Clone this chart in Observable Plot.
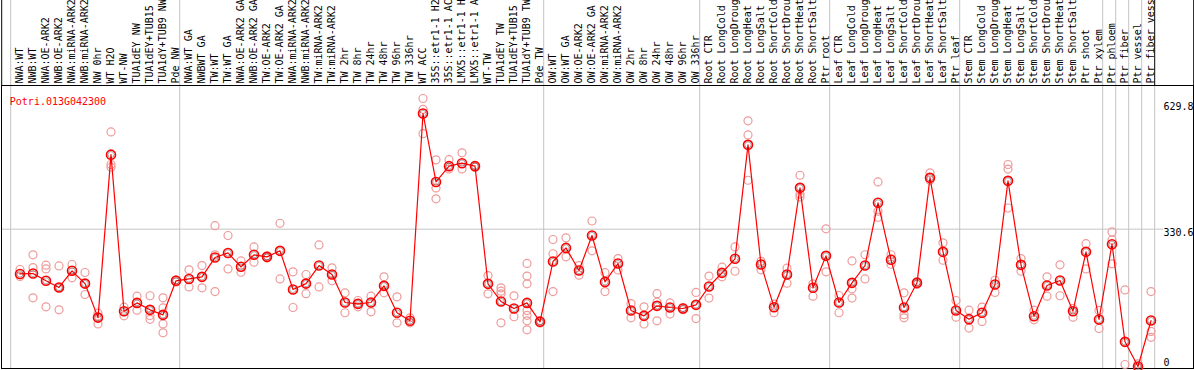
<!DOCTYPE html>
<html><head><meta charset="utf-8">
<script src="https://cdn.jsdelivr.net/npm/d3@7"></script>
<script src="https://cdn.jsdelivr.net/npm/@observablehq/plot@0.6"></script>
<style>html,body{margin:0;padding:0;background:#fff;} #chart svg{display:block;overflow:hidden;}</style>
</head><body><div id="chart"></div>
<script>
const geneId = "Potri.013G042300";
const labels = [
  "NWA:WT","NWB:WT","NWA:OE-ARK2","NWB:OE-ARK2","NWA:miRNA-ARK2","NWB:miRNA-ARK2","NW 0hr","WT H2O","WT-NW","TUA1dEY NW","TUA1dEY+TUB15 NW","TUA1dY+TUB9 NW","Pde NW",
  "NWA:WT GA","NWBWT GA","TW:WT","TW:WT GA","NWA:OE-ARK2 GA","NWB:OE-ARK2 GA","TW:OE-ARK2","TW:OE-ARK2 GA","NWA:miRNA-ARK2 GA","NWB:miRNA-ARK2 GA","TW:miRNA-ARK2","TW:miRNA-ARK2 GA","TW 2hr","TW 8hr","TW 24hr","TW 48hr","TW 96hr","TW 336hr","WT ACC","35S::etr1-1 H2O","35S::etr1-1 ACC","LMX5::etr1-1 H2O","LMX5::etr1-1 ACC","WT-TW","TUA1dEY TW","TUA1dEY+TUB15 TW","TUA1dY+TUB9 TW","Pde TW",
  "OW:WT","OW:WT GA","OW:OE-ARK2","OW:OE-ARK2 GA","OW:miRNA-ARK2","OW:miRNA-ARK2 GA","OW 2hr","OW 8hr","OW 24hr","OW 48hr","OW 96hr","OW 336hr",
  "Root CTR","Root LongCold","Root LongDrought","Root LongHeat","Root LongSalt","Root ShortCold","Root ShortDrought","Root ShortHeat","Root ShortSalt","Ptr root",
  "Leaf CTR","Leaf LongCold","Leaf LongDrought","Leaf LongHeat","Leaf LongSalt","Leaf ShortCold","Leaf ShortDrought","Leaf ShortHeat","Leaf ShortSalt","Ptr leaf",
  "Stem CTR","Stem LongCold","Stem LongDrought","Stem LongHeat","Stem LongSalt","Stem ShortCold","Stem ShortDrought","Stem ShortHeat","Stem ShortSalt","Ptr shoot","Ptr xylem",
  "Ptr phloem","Ptr fiber","Ptr vessel","Ptr fiber vessel"
];
const means = [
  224,225,207.6,191.7,231.4,201,120,508,135,155,138.5,126.6,207.6,
  212,217,263,274,241,269.5,264.7,279,187,201,244,222.6,156,152.8,156,195.6,131.4,112.4,606,443,480.6,487.7,480.6,200.4,158.3,141.7,155,110,
  253.6,286,232,315.5,205,248.8,137,124.2,148,144,141.7,150.4,
  194,226.6,260,531.3,246.4,144.8,222.6,429,191,267,
  156,202.8,244,393.3,257.6,144,202.8,452.8,276.6,137,
  116.3,131.4,198.8,445.6,245.6,123.4,196.4,208.3,135.3,276.6,115.5,
  294.8,62.3,3.6,113
];
const replicates = [
  [234.5,218],[269.5,239,167],[244.8,236,145.7],[243,138.5,192],[246.4,214.7],[227.4,175],[130.5,105],[562,484.5,478],[144.8,124.3],[171,137.6],[172,125,116],[167,143,105,83.8],[210,205],
  [233.7,193],[244,191],[339,269.5,182],[315.5,236],[255,228],[288.3,252],[267,262],[344.7,212],[229,144],[222.6,177],[293,193],[238.6,207.6],[179,131.5],[160.7,145.7],[171,133.7],[217,179],[169.5,107.6],[119.5,107.6],[641.7,616,558],[495.7,428.8,402.8],[496,474],[512.3,474],[482,478],[220,176.6],[191,183,176.6,107.6],[171.8,122],[249,219,200.4,137,125.5,112.4,91],[113,107],
  [306,272,182],[310,264.7],[244,221],[350,279],[227,182],[260.6,233.4],[153.3,119.5],[145.7,104.8],[177,156.6,112.4],[155,128.4],[144,139],[180,117.6],
  [219,166.6],[240,217],[288.3,230.4],[588.5,555,447],[254,233.7],[152,131.5],[237.8,202],[459,414,407],[200.4,171],[331.3,229],
  [172.6,131.5],[255,188.5,166.6],[269.6,212],[443,373.4,359],[269.6,247],[179,127,119.5],[206,199],[464.7,447],[298,256.6],[160.7,121],
  [137.6,95],[145,111],[209,180],[484.6,473.6,381],[260.6,230.4],[137.6,114.8],[217,171],[245.6,172],[141.7,121],[296,236],[137,94],
  [324,305,248],[186,8.3],[10,0],[182,87,73]
];
const groupStarts = [0,13,41,53,63,73,84,85,86,87];
const yTicks = [0, 330.6, 629.8];

const meanRows = means.map((v, i) => ({i, v}));
const repRows = replicates.flatMap((r, i) => r.map(v => ({i, v})));
const last = labels.length - 1;
const font = "'DejaVu Sans Mono', monospace";
const grid = "#c4c4c4";

const chart = Plot.plot({
  width: 1194, height: 370,
  marginTop: 85, marginBottom: 2, marginLeft: 10, marginRight: 38,
  style: {fontFamily: font, fontSize: "10px", background: "#fff", overflow: "hidden"},
  x: {type: "band", domain: d3.range(labels.length), range: [12.8, 1156.8], padding: 0},
  y: {domain: [0, 629.8], range: [367.5, 103]},
  marks: [
    Plot.ruleX(groupStarts, {dx: -9.3, stroke: grid, insetTop: -85}),
    Plot.ruleX([last], {dx: 3.7, stroke: grid}),
    Plot.ruleX([last], {dx: 3.7, stroke: "#000", insetTop: -85, insetBottom: 283}),
    Plot.ruleX([0], {dx: -18.3, stroke: "#000", insetTop: -85, insetBottom: 283}),
    Plot.ruleX([last], {dx: 42.7, stroke: "#000", insetTop: -85, insetBottom: 283}),
    Plot.ruleY([yTicks[1]], {stroke: grid, insetLeft: -9, insetRight: -7}),
    Plot.frame({stroke: "#000", insetLeft: -9, insetRight: -37}),
    Plot.axisX({anchor: "top", tickRotate: -90, tickSize: 0, tickPadding: 2, tickFormat: i => labels[i], fill: "#000", fontSize: 10, label: null}),
    Plot.axisY({anchor: "right", ticks: yTicks.filter(t => t > 0), tickSize: 0, tickPadding: 7, dy: 3.5, tickFormat: d => String(d), fill: "#000", label: null}),
    Plot.axisY({anchor: "right", ticks: yTicks.filter(t => t === 0), tickSize: 0, tickPadding: 7, dy: -5.5, tickFormat: d => String(d), fill: "#000", label: null}),
    Plot.dot(repRows, {x: "i", y: "v", r: 4, stroke: "#ee9a9a", strokeWidth: 1.2, fill: "none"}),
    Plot.line(meanRows, {x: "i", y: "v", stroke: "#ff0000", strokeWidth: 1.2}),
    Plot.dot(meanRows, {x: "i", y: "v", r: 4.5, stroke: "#ff0000", strokeWidth: 1.6, fill: "none"}),
    Plot.dot(meanRows, {x: "i", y: "v", r: 3.1, stroke: "#000", strokeWidth: 0.6, strokeOpacity: 0.55, fill: "none"}),
    Plot.text([geneId], {frameAnchor: "top-left", text: d => d, textAnchor: "start", dx: -0.7, dy: 12, fill: "#ff0000", fontSize: 10})
  ]
});
document.getElementById("chart").appendChild(chart);
</script>
</body></html>
